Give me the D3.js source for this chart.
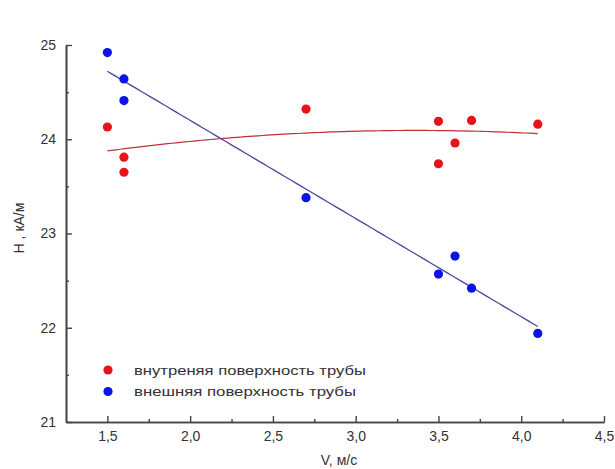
<!DOCTYPE html>
<html>
<head>
<meta charset="utf-8">
<script src="https://cdn.jsdelivr.net/npm/d3@7"></script>
<style>
  html, body { margin: 0; padding: 0; background: #fff; }
  svg { display: block; }
</style>
</head>
<body>
<svg id="chart" width="615" height="469"></svg>
<script>
// ---- data ----
const innerX = [1.5, 1.6, 1.6, 2.7, 3.5, 3.5, 3.6, 3.7, 4.1];
const innerY = [24.13, 23.81, 23.65, 24.32, 24.19, 23.74, 23.96, 24.20, 24.16];
const outerX = [1.5, 1.6, 1.6, 2.7, 3.5, 3.6, 3.7, 4.1];
const outerY = [24.92, 24.64, 24.41, 23.38, 22.57, 22.76, 22.42, 21.94];
const xMajorTicks = [1.5, 2.0, 2.5, 3.0, 3.5, 4.0, 4.5];
const xMinorTicks = [1.75, 2.25, 2.75, 3.25, 3.75, 4.25];
const yMajorTicks = [21, 22, 23, 24, 25];
const yMinorTicks = [21.5, 22.5, 23.5, 24.5];
const seriesNames = ["внутреняя поверхность трубы", "внешняя поверхность трубы"];
const xTitle = "V, м/с";
const yTitle = "H , кА/м";

// ---- layout ----
const svg = d3.select("#chart");
const x = d3.scaleLinear().domain([1.25, 4.5]).range([66, 604]);
const y = d3.scaleLinear().domain([21, 25]).range([422, 45]);
const axisColor = "#444";
const textColor = "#333";
const font = "Liberation Sans, Arial, sans-serif";

// ---- fits ----
function linFit(xs, ys) {
  const n = xs.length, mx = d3.mean(xs), my = d3.mean(ys);
  let sxy = 0, sxx = 0;
  for (let i = 0; i < n; i++) { sxy += (xs[i]-mx)*(ys[i]-my); sxx += (xs[i]-mx)**2; }
  const b = sxy / sxx, a = my - b*mx;
  return v => a + b*v;
}
function quadFit(xs, ys) {
  const S = k => d3.sum(xs, v => v**k);
  const T = k => d3.sum(xs.map((v,i)=> v**k * ys[i]));
  const A = [[S(0),S(1),S(2)],[S(1),S(2),S(3)],[S(2),S(3),S(4)]];
  const B = [T(0),T(1),T(2)];
  for (let i = 0; i < 3; i++) {
    for (let j = i+1; j < 3; j++) {
      const f = A[j][i]/A[i][i];
      for (let k = i; k < 3; k++) A[j][k] -= f*A[i][k];
      B[j] -= f*B[i];
    }
  }
  const c = [0,0,0];
  for (let i = 2; i >= 0; i--) {
    let s = B[i];
    for (let k = i+1; k < 3; k++) s -= A[i][k]*c[k];
    c[i] = s / A[i][i];
  }
  return v => c[0] + c[1]*v + c[2]*v*v;
}
const fRed = quadFit(innerX, innerY);
const fBlue = linFit(outerX, outerY);

function curvePts(f, xs) {
  const lo = d3.min(xs), hi = d3.max(xs);
  return d3.range(0, 101).map(i => { const v = lo + (hi-lo)*i/100; return [v, f(v)]; });
}
const line = d3.line().x(d => x(d[0])).y(d => y(d[1]));

svg.append("path").attr("d", line(curvePts(fRed, innerX)))
  .attr("fill", "none").attr("stroke", "#c0303a").attr("stroke-width", 1.2);
svg.append("path").attr("d", line(curvePts(fBlue, outerX)))
  .attr("fill", "none").attr("stroke", "#4848a0").attr("stroke-width", 1.3);

// ---- points ----
svg.append("g").selectAll("circle").data(innerX.map((v,i)=>[v, innerY[i]])).join("circle")
  .attr("cx", d => x(d[0])).attr("cy", d => y(d[1])).attr("r", 4.6).attr("fill", "#e8121a");
svg.append("g").selectAll("circle").data(outerX.map((v,i)=>[v, outerY[i]])).join("circle")
  .attr("cx", d => x(d[0])).attr("cy", d => y(d[1])).attr("r", 4.6).attr("fill", "#0a14e6");

// ---- axes ----
const fmt = d => d3.format(".1f")(d).replace(".", ",");
const gx = svg.append("g").attr("transform", `translate(0,${y(21)})`)
  .call(d3.axisBottom(x).tickValues(xMajorTicks).tickFormat(fmt).tickSizeInner(-6).tickSizeOuter(0).tickPadding(9));
const gxm = svg.append("g").attr("transform", `translate(0,${y(21)})`)
  .call(d3.axisBottom(x).tickValues(xMinorTicks).tickFormat("").tickSizeInner(-3).tickSizeOuter(0));
const gy = svg.append("g").attr("transform", `translate(${x(1.25)},0)`)
  .call(d3.axisLeft(y).tickValues(yMajorTicks).tickFormat(d3.format("d")).tickSizeInner(-6).tickSizeOuter(0).tickPadding(10));
const gym = svg.append("g").attr("transform", `translate(${x(1.25)},0)`)
  .call(d3.axisLeft(y).tickValues(yMinorTicks).tickFormat("").tickSizeInner(-3).tickSizeOuter(0));
[gx, gxm, gy, gym].forEach(g => {
  g.selectAll("path.domain").attr("stroke", axisColor).attr("stroke-width", 1.6);
  g.selectAll(".tick line").attr("stroke", axisColor).attr("stroke-width", 1.4);
  g.selectAll("text").attr("fill", textColor).attr("font-size", 14).attr("font-family", font);
});

// ---- titles ----
svg.append("text").attr("x", 339).attr("y", 465).attr("text-anchor", "middle")
  .attr("font-family", font).attr("font-size", 14).attr("fill", textColor).text(xTitle);
svg.append("text").attr("transform", "translate(24,228) rotate(-90)").attr("text-anchor", "middle")
  .attr("font-family", font).attr("font-size", 14).attr("fill", textColor).text(yTitle);

// ---- legend ----
const colors = ["#e8121a", "#0a14e6"];
const legendWidths = [232, 222];
const lg = svg.append("g");
seriesNames.forEach((n, i) => {
  const yy = 370 + i*21.5;
  lg.append("circle").attr("cx", 108).attr("cy", yy).attr("r", 4.6).attr("fill", colors[i]);
  lg.append("text").attr("x", 134).attr("y", yy).attr("dy", "0.35em")
    .attr("font-family", font).attr("font-size", 13).attr("fill", textColor)
    .attr("textLength", legendWidths[i]).attr("lengthAdjust", "spacingAndGlyphs").text(n);
});
</script>
</body>
</html>
